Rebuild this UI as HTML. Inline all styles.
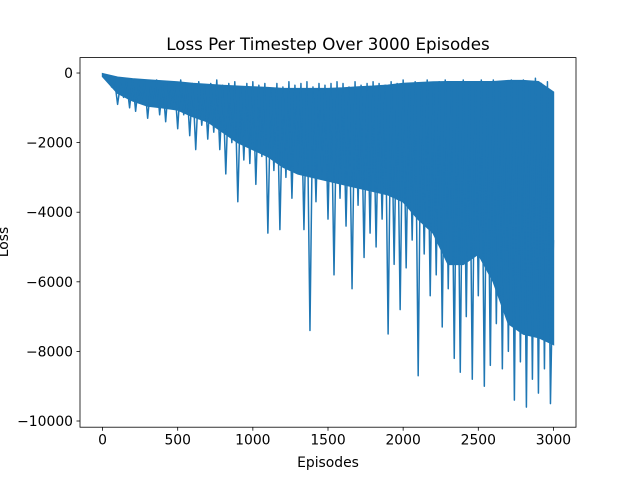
<!DOCTYPE html>
<html><head><meta charset="utf-8">
<style>
html,body{margin:0;padding:0;background:#fff;}
svg text{font-family:"DejaVu Sans","Liberation Sans",sans-serif;fill:#000;}
</style></head>
<body>
<svg id="chart" width="640" height="480" viewBox="0 0 640 480" xmlns="http://www.w3.org/2000/svg">
<rect width="640" height="480" fill="#fff"/>
<text x="328" y="50" font-size="16.7" text-anchor="middle">Loss Per Timestep Over 3000 Episodes</text>
<g id="plot"></g>
<text x="328" y="467" font-size="13.9" text-anchor="middle">Episodes</text>
<text x="0" y="0" font-size="13.9" text-anchor="middle" transform="translate(8,242) rotate(-90)">Loss</text>
</svg>
<script>
const episodeStep = 20;
const lossValues = [
-20,-150,-100,-400,-200,-900,-300,-700,-250,-1000,
-200,-1100,-300,-800,-250,-1300,-400,-900,-200,-1200,
-300,-1400,-250,-1000,-350,-1600,-200,-1200,-300,-1800,
-300,-2200,-250,-1500,-400,-1900,-300,-1700,-200,-2200,
-350,-2900,-300,-2000,-250,-3700,-400,-2500,-300,-2600,
-250,-3200,-350,-2400,-300,-4600,-450,-2800,-300,-4500,
-400,-3000,-250,-3600,-350,-2700,-300,-4500,-250,-7400,
-400,-3700,-300,-2900,-350,-4200,-300,-5800,-250,-3600,
-300,-4400,-400,-6200,-250,-3800,-350,-5300,-300,-4600,
-250,-5000,-300,-4200,-350,-7500,-250,-5500,-300,-6800,
-200,-5600,-300,-4800,-250,-8700,-350,-5200,-200,-6400,
-300,-5800,-250,-7300,-200,-6200,-300,-8200,-250,-8600,
-200,-7000,-300,-8800,-250,-6400,-200,-9000,-300,-8400,
-200,-7200,-250,-8500,-300,-8000,-200,-9400,-250,-8300,
-200,-9600,-300,-8800,-150,-9200,-300,-8500,-250,-9500,
-4800];
// dense band of the oscillation, sampled every 100 episodes
const bandStep = 100;
const bandTop = [-20,-120,-170,-200,-230,-260,-300,-330,-360,-380,-400,-420,-450,-450,-450,-450,-430,-400,-380,-350,-300,-280,-260,-250,-250,-250,-250,-220,-220,-250,-550];
const bandBottom = [-100,-580,-800,-950,-1000,-1060,-1250,-1400,-1700,-2000,-2200,-2400,-2700,-2900,-3000,-3100,-3200,-3300,-3400,-3500,-3700,-4200,-4600,-5500,-5500,-5200,-6000,-7200,-7500,-7600,-7800];
const xTicks = [0,500,1000,1500,2000,2500,3000];
const yTicks = [0,-2000,-4000,-6000,-8000,-10000];

const L=80,R=576,T=57.6,B=427.2;
const xMin=-150,xMax=3150,yMin=-10178,yMax=443;
const xs=v=>L+(v-xMin)/(xMax-xMin)*(R-L);
const ys=v=>B-(v-yMin)/(yMax-yMin)*(B-T);
const NS="http://www.w3.org/2000/svg";
const g=document.getElementById('plot');
function mk(t,a){const e=document.createElementNS(NS,t);for(const k in a)e.setAttribute(k,a[k]);g.appendChild(e);return e;}

let bd=bandTop.map((v,i)=>(i?'L':'M')+xs(i*bandStep).toFixed(2)+','+ys(v).toFixed(2)).join('');
for(let i=bandBottom.length-1;i>=0;i--) bd+='L'+xs(i*bandStep).toFixed(2)+','+ys(bandBottom[i]).toFixed(2);
const band=mk('path',{d:bd+'Z',fill:'#1f77b4',stroke:'#1f77b4','stroke-width':1.5});



let d=lossValues.map((v,i)=>(i?'L':'M')+xs(i*episodeStep).toFixed(2)+','+ys(v).toFixed(2)).join('');
const line=mk('path',{d:d,fill:'none',stroke:'#1f77b4','stroke-width':1.5,'stroke-linejoin':'round'});



const frame=mk('rect',{x:L,y:T,width:R-L,height:B-T,fill:'none',stroke:'#000','stroke-width':0.8});



xTicks.forEach(v=>{
  const x=xs(v);
  const tk=mk('line',{x1:x,x2:x,y1:B,y2:B+3.5,stroke:'#000','stroke-width':0.8});
  
  
  const t=mk('text',{x:x,y:B+17.5,'font-size':13.9,'text-anchor':'middle'});
  t.textContent=String(v);
  
  
});
yTicks.forEach(v=>{
  const y=ys(v);
  const tk=mk('line',{x1:L-3.5,x2:L,y1:y,y2:y,stroke:'#000','stroke-width':0.8});
  
  
  const t=mk('text',{x:L-7,y:y+5,'font-size':13.9,'text-anchor':'end'});
  t.textContent=String(v).replace('-','\u2212');
  
  
});
</script>
</body></html>
